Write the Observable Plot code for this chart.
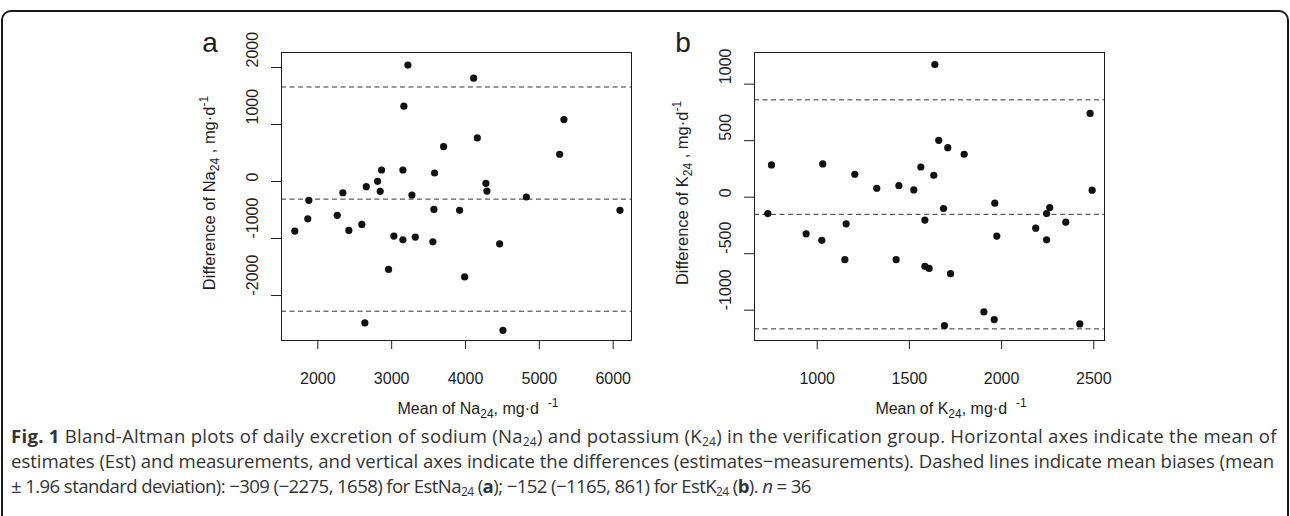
<!DOCTYPE html>
<html><head><meta charset="utf-8">
<script src="https://cdn.jsdelivr.net/npm/d3@7"></script>
<script src="https://cdn.jsdelivr.net/npm/@observablehq/plot@0.6"></script>
<style>
html,body{margin:0;padding:0;background:#fff}
body{width:1290px;height:516px;overflow:hidden;position:relative;font-family:"Liberation Sans",Arial,sans-serif}
#border{position:absolute;left:1px;top:10px;width:1288px;height:560px;border:2px solid #1a1a1a;border-radius:10px;box-sizing:border-box}
.panel{position:absolute;top:0}
#caption{position:absolute;left:11px;top:423px;font-family:"Open Sans",sans-serif;font-size:18.6px;line-height:25px;color:#333;white-space:nowrap}
#caption sub{font-size:12px;vertical-align:-3px;line-height:0}
#l1{letter-spacing:0.25px}
#l2{letter-spacing:-0.05px}
#l3{letter-spacing:-0.6px}
</style></head>
<body>
<div id="border"></div>
<div id="pa" class="panel" style="left:150px"></div>
<div id="pb" class="panel" style="left:640px"></div>
<div id="caption">
<div id="l1"><b>Fig. 1</b> Bland-Altman plots of daily excretion of sodium (Na<sub>24</sub>) and potassium (K<sub>24</sub>) in the verification group. Horizontal axes indicate the mean of</div>
<div id="l2">estimates (Est) and measurements, and vertical axes indicate the differences (estimates−measurements). Dashed lines indicate mean biases (mean</div>
<div id="l3">± 1.96 standard deviation): −309 (−2275, 1658) for EstNa<sub>24</sub> (<b>a</b>); −152 (−1165, 861) for EstK<sub>24</sub> (<b>b</b>). <i>n</i> = 36</div>
</div>
<script>
// Panel a: sodium
const naMean = [3220,4110,3165,5333,4160,3703,5275,2863,3152,3581,2656,2809,2339,2845,3274,4276,4290,4824,1878,1688,1864,2263,2420,2596,2637,2958,3030,3152,3320,3558,3572,3920,3988,4462,4507,6092];
const naDiff = [2042,1813,1321,1086,764,612,478,202,202,149,-91,3,-197,-172,-237,-32,-167,-272,-330,-870,-654,-594,-858,-753,-2481,-1543,-958,-1023,-975,-1058,-489,-506,-1673,-1093,-2610,-506];
const naLimits = [-309, -2275, 1658];
const naXTicks = [2000,3000,4000,5000,6000];
const naYTicks = [-2000,-1000,0,1000,2000];
// Panel b: potassium
const kMean = [1638,2480,1659,1708,1797,752,1030,1204,1562,1632,1323,1443,1524,2491,732,940,1025,1157,1150,1428,1685,1584,1584,1607,1723,1690,1904,1960,1963,1974,2185,2244,2261,2244,2348,2424];
const kDiff = [1174,741,503,438,380,285,294,203,267,194,79,102,64,62,-145,-324,-382,-236,-553,-553,-100,-203,-612,-630,-677,-1136,-1015,-1083,-53,-344,-274,-145,-92,-377,-221,-1121];
const kLimits = [-152, -1165, 861];
const kXTicks = [1000,1500,2000,2500];
const kYTicks = [-1000,-500,0,500,1000];

const ink = "#1e1e1e";

function panel({xs, ys, limits, xTicks, yTicks, xDomain, yDomain, width, mLeft, mRight, el, letter, element}) {
  const data = xs.map((x, i) => ({x, y: ys[i]}));
  const H = 430, mTop = 52, mBottom = 90;
  const p = Plot.plot({
    width, height: H,
    marginLeft: mLeft, marginRight: mRight, marginTop: mTop, marginBottom: mBottom,
    style: {fontFamily: "'Liberation Sans', Arial, sans-serif", color: ink, background: "transparent", overflow: "visible"},
    x: {domain: xDomain},
    y: {domain: yDomain},
    marks: [
      Plot.frame({stroke: ink, strokeWidth: 1}),
      Plot.ruleY(limits, {stroke: "#333", strokeWidth: 1, strokeDasharray: "5,3.5"}),
      Plot.dot(data, {x: "x", y: "y", r: 3.6, fill: "#111", stroke: null}),
      Plot.axisX({ticks: xTicks, tickSize: 9, tickPadding: 23, fontSize: 16, tickFormat: d => String(d), label: null, stroke: ink}),
      Plot.axisY({ticks: yTicks, tickSize: 10, tickFormat: () => "", label: null, stroke: ink}),
      Plot.text(yTicks, {y: d => d, text: d => String(d), frameAnchor: "left", dx: -29, rotate: -90, fontSize: 16, fill: ink})
    ]
  });
  const svg = d3.select(p);
  const cx = mLeft + (width - mLeft - mRight) / 2;
  const cy = mTop + (H - mTop - mBottom) / 2;
  // x title
  const xt = svg.append("text").attr("x", cx + 22).attr("y", 414).attr("text-anchor", "middle")
    .attr("font-size", 16).attr("fill", ink);
  xt.append("tspan").text("Mean of " + element);
  xt.append("tspan").attr("dy", 4).attr("font-size", 12).text("24");
  xt.append("tspan").attr("dy", -4).text(", mg·d  ");
  xt.append("tspan").attr("dy", -7).attr("font-size", 12).text("-1");
  // y title
  const yt = svg.append("text").attr("transform", `translate(${mLeft - 66},${cy - 3}) rotate(-90)`)
    .attr("text-anchor", "middle").attr("font-size", 16.5).attr("fill", ink);
  yt.append("tspan").text("Difference of " + element);
  yt.append("tspan").attr("dy", 4).attr("font-size", 12).text("24");
  yt.append("tspan").attr("dy", -4).text(" , mg·d");
  yt.append("tspan").attr("dy", -7).attr("font-size", 12).text("-1");
  // panel letter
  svg.append("text").attr("x", mLeft - 71).attr("y", 52).attr("font-size", 28).attr("fill", ink).text(letter);
  document.getElementById(el).appendChild(p);
}

panel({xs: naMean, ys: naDiff, limits: naLimits, xTicks: naXTicks, yTicks: naYTicks,
  xDomain: [1508, 6248], yDomain: [-2789, 2263], width: 490, mLeft: 131, mRight: 9, el: "pa", letter: "a", element: "Na"});
panel({xs: kMean, ys: kDiff, limits: kLimits, xTicks: kXTicks, yTicks: kYTicks,
  xDomain: [660, 2558], yDomain: [-1268, 1280], width: 480, mLeft: 114, mRight: 16, el: "pb", letter: "b", element: "K"});
</script>
</body></html>
